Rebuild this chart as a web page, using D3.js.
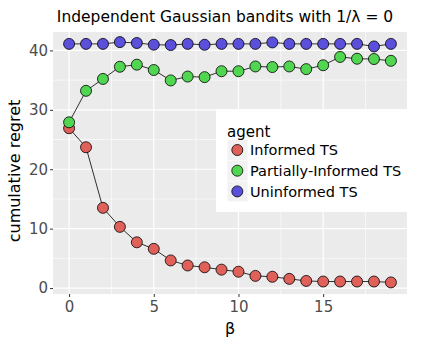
<!DOCTYPE html>
<html><head><meta charset="utf-8">
<script src="https://cdn.jsdelivr.net/npm/d3@7"></script>
<style>body{margin:0;background:#fff}svg{display:block}text{font-family:"DejaVu Sans",sans-serif}</style>
</head><body>
<script>
const betas = d3.range(0, 20);
const agents = ["Informed TS", "Partially-Informed TS", "Uninformed TS"];
const colors = ["#E0605A", "#50D650", "#5A50DC"];
const informed = [26.9, 23.7, 13.5, 10.3, 7.7, 6.6, 4.65, 3.8, 3.5, 3.1, 2.75, 2.05, 1.9, 1.55, 1.2, 1.1, 1.1, 1.1, 1.1, 0.95];
const partial = [27.9, 33.2, 35.2, 37.25, 37.6, 36.7, 34.95, 35.6, 35.5, 36.5, 36.5, 37.3, 37.2, 37.3, 36.85, 37.5, 38.9, 38.6, 38.55, 38.25];
const uninformed = [41.1, 41.1, 41.1, 41.4, 41.25, 40.96, 40.9, 41.1, 40.95, 41.1, 41.1, 41.1, 41.35, 41.1, 41.1, 41.1, 41.1, 41.1, 40.67, 41.1];
const xTicks = [0, 5, 10, 15];
const yTicks = [0, 10, 20, 30, 40];
const series = [informed, partial, uninformed];

const W = 423, H = 344;
const P = {l: 53, r: 407, t: 32, b: 294};
const svg = d3.select("body").append("svg").attr("width", W).attr("height", H);
const x = d3.scaleLinear().domain([-0.95, 19.95]).range([P.l, P.r]);
const y = d3.scaleLinear().domain([-1.0, 43.1]).range([P.b, P.t]);

svg.append("rect").attr("x", P.l).attr("y", P.t).attr("width", P.r - P.l).attr("height", P.b - P.t).attr("fill", "#EBEBEB");
const g = svg.append("g");
[2.5, 7.5, 12.5, 17.5].forEach(v => g.append("line").attr("x1", x(v)).attr("x2", x(v)).attr("y1", P.t).attr("y2", P.b).attr("stroke", "#fff").attr("stroke-width", 0.6));
[5, 15, 25, 35].forEach(v => g.append("line").attr("y1", y(v)).attr("y2", y(v)).attr("x1", P.l).attr("x2", P.r).attr("stroke", "#fff").attr("stroke-width", 0.6));
xTicks.forEach(v => g.append("line").attr("x1", x(v)).attr("x2", x(v)).attr("y1", P.t).attr("y2", P.b).attr("stroke", "#fff").attr("stroke-width", 1.2));
yTicks.forEach(v => g.append("line").attr("y1", y(v)).attr("y2", y(v)).attr("x1", P.l).attr("x2", P.r).attr("stroke", "#fff").attr("stroke-width", 1.2));

// axes
const xa = svg.append("g").attr("transform", `translate(0,${P.b})`).call(d3.axisBottom(x).tickValues(xTicks).tickSize(3).tickPadding(4));
const ya = svg.append("g").attr("transform", `translate(${P.l},0)`).call(d3.axisLeft(y).tickValues(yTicks).tickSize(3).tickPadding(2));
[xa, ya].forEach(a => {
  a.select(".domain").remove();
  a.selectAll(".tick line").attr("stroke", "#333");
  a.selectAll(".tick text").attr("fill", "#4D4D4D").style("font-size", "15px").style("font-family", "DejaVu Sans");
});

const line = d3.line().x((d, i) => x(betas[i])).y(d => y(d));
series.forEach((s, k) => {
  svg.append("path").datum(s).attr("d", line).attr("fill", "none").attr("stroke", "#000").attr("stroke-width", 0.8);
});
series.forEach((s, k) => {
  svg.append("g").selectAll("circle").data(s).join("circle")
    .attr("cx", (d, i) => x(betas[i])).attr("cy", d => y(d)).attr("r", 5.5)
    .attr("fill", colors[k]).attr("stroke", "#000").attr("stroke-width", 0.8);
});

// titles
svg.append("text").attr("x", 225).attr("y", 22).attr("text-anchor", "middle").style("font-size", "15.5px").attr("fill", "#000").text("Independent Gaussian bandits with 1/λ = 0");
svg.append("text").attr("x", 230).attr("y", 334).attr("text-anchor", "middle").style("font-size", "16px").attr("fill", "#000").text("β");
svg.append("text").attr("transform", `translate(20,${(P.t + P.b) / 2 + 8}) rotate(-90)`).attr("text-anchor", "middle").style("font-size", "16px").attr("fill", "#000").text("cumulative regret");

// legend
const lg = svg.append("g");
lg.append("rect").attr("x", 216).attr("y", 109).attr("width", P.r - 216).attr("height", 103).attr("fill", "#fff");
lg.append("text").attr("x", 227).attr("y", 137).style("font-size", "15px").attr("fill", "#000").text("agent");
agents.forEach((a, i) => {
  const cy = 150 + i * 20.7;
  lg.append("rect").attr("x", 227.5).attr("y", cy - 10).attr("width", 20).attr("height", 20).attr("fill", "#F2F2F2");
  lg.append("circle").attr("cx", 237.3).attr("cy", cy).attr("r", 5.5).attr("fill", colors[i]).attr("stroke", "#000").attr("stroke-width", 0.8);
  lg.append("text").attr("x", 250).attr("y", cy + 5.3).style("font-size", "14.5px").attr("fill", "#000").text(a);
});
</script>
</body></html>
